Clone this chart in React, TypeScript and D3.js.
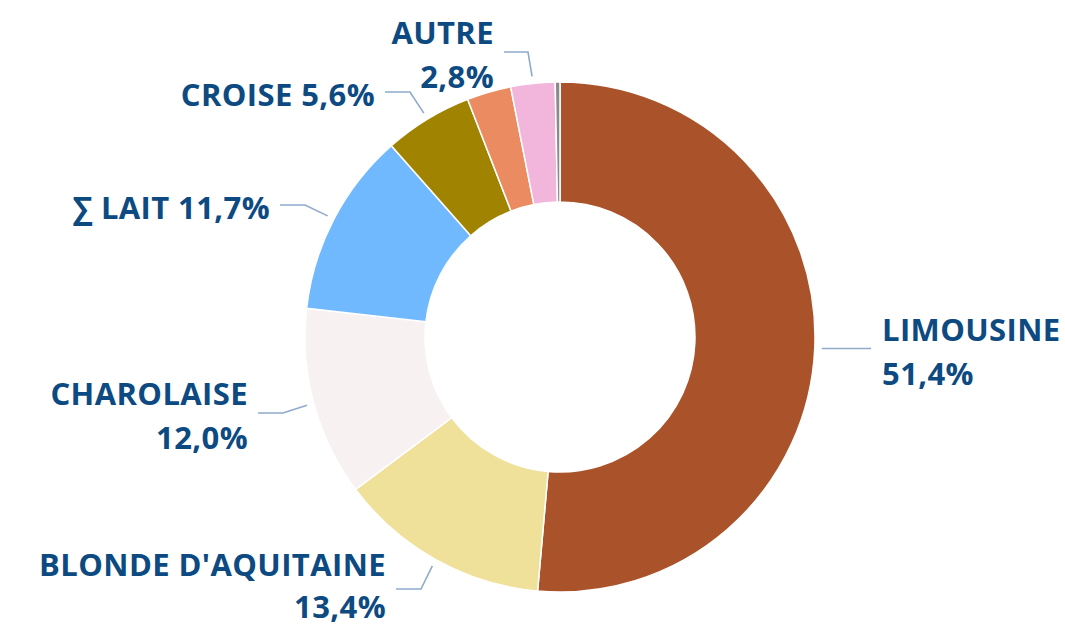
import * as d3 from "d3";
import React from "react";

// breed shares (%), clockwise from 12 o'clock
const breeds = ["LIMOUSINE", "BLONDE D'AQUITAINE", "CHAROLAISE", "∑ LAIT", "CROISE", "AUTRE_ORANGE", "AUTRE", "AUTRE_GRIS"];
const shares = [51.4, 13.4, 12.0, 11.7, 5.6, 2.8, 2.8, 0.3];
const colors = ["#AA5229", "#EFE09A", "#F7F1F1", "#70B9FF", "#A08300", "#EB8B61", "#F2B5DC", "#8A8A8A"];
const labelText = ["LIMOUSINE\n51,4%", "BLONDE D'AQUITAINE\n13,4%", "CHAROLAISE\n12,0%", "∑ LAIT 11,7%", "CROISE 5,6%", null, "AUTRE\n2,8%", null];

// leader line bend / end points, label side
const bendPts: ([number, number] | null)[] = [null, [421, 589], [283, 413], [305, 205], [410, 92], null, [528, 52], null];
const endX = [871, 396, 258, 280, 385, 0, 504, 0];

const width = 1065;
const height = 627;
const cx = 560;
const cy = 337;
const outerR = 255;
const innerR = 135;

export default function App() {
  const pie = d3.pie<number>().sort(null).value(d => d);
  const arcs = pie(shares);
  const arc = d3.arc<d3.PieArcDatum<number>>().innerRadius(innerR).outerRadius(outerR);

  return (
    <svg width={width} height={height} style={{ position: "absolute", left: 0, top: 0, background: "#fff" }}
      fontFamily="'Open Sans', 'Noto Sans', sans-serif" fontWeight="bold">
      <g transform={`translate(${cx},${cy})`}>
        {arcs.map((a, i) => (
          <path key={i} d={arc(a) || ""} fill={colors[i]} stroke="#fff" strokeWidth={1.5} />
        ))}
      </g>
      {arcs.map((a, i) => {
        const txt = labelText[i];
        if (!txt) return null;
        const mid = (a.startAngle + a.endAngle) / 2;
        const sx = cx + (outerR + 7) * Math.sin(mid);
        const sy = cy - (outerR + 7) * Math.cos(mid);
        const bend = bendPts[i] ?? [sx, sy];
        const ex = endX[i];
        const ey = bend[1];
        const right = ex > cx;
        const lines = txt.split("\n");
        const tx = right ? ex + 11 : ex - 10;
        // the bottom label is lifted a little so its second line stays inside the frame
        const baseY = lines.length === 1 ? ey + 14 : ey - (i === 1 ? 13 : 8);
        return (
          <g key={i}>
            <polyline points={`${sx},${sy} ${bend[0]},${bend[1]} ${ex},${ey}`} fill="none" stroke="#8FAACB" strokeWidth={1.6} />
            <text x={tx} y={baseY} fill="#0D4A82" fontSize={31} letterSpacing={0.4} textAnchor={right ? "start" : "end"}>
              {lines.map((l, j) => (
                <tspan key={j} x={tx} dy={j === 0 ? 0 : (i === 1 ? 42 : 44)}>{l}</tspan>
              ))}
            </text>
          </g>
        );
      })}
    </svg>
  );
}
